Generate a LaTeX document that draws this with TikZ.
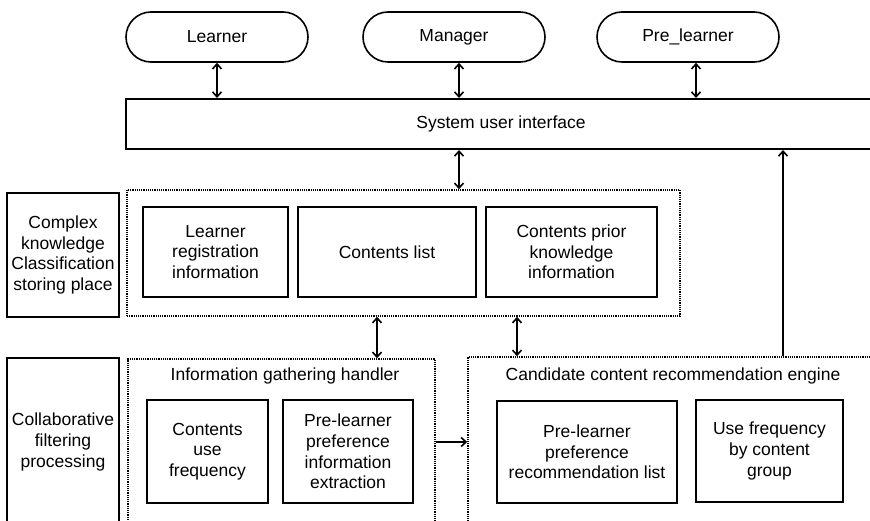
\documentclass[tikz,border=0pt]{standalone}
\usepackage{fontspec}
\setmainfont{Liberation Sans}
\usetikzlibrary{arrows.meta}
\tikzset{actor/.style={draw, line width=1.6pt, rounded corners=25pt, minimum width=182pt, minimum height=50pt, inner sep=0pt},
%solid boxes, size given at each node
block/.style={draw, line width=2pt, align=center, inner sep=0pt},
group/.style={draw, line width=1.5pt, dash pattern=on 1.2pt off 1pt},
link/.style={line width=1.6pt, >={Straight Barb[length=5pt,width=9pt]}}}

\begin{document}
\begin{tikzpicture}[x=1pt,y=-1pt,font=\fontsize{17.5}{20.7}\selectfont]
\useasboundingbox (0,0) rectangle (870,521);

% users
\node[actor] (learner) at (217,37) {Learner};
\node[actor] (manager) at (454,37) {Manager};
\node[actor] (prelearner) at (688,37) {Pre\_learner};

\node[block, minimum width=750pt, minimum height=50pt] (sui) at (501,124) {System user interface};

\draw[link,<->] (learner.south) -- (learner.south |- sui.north);
\draw[link,<->] ([xshift=5pt]manager.south) -- ([xshift=5pt]manager.south |- sui.north);
\draw[link,<->] ([xshift=8pt]prelearner.south) -- ([xshift=8pt]prelearner.south |- sui.north);

% storing place
\node[block, minimum width=112pt, minimum height=124pt] (complex) at (63,255) {Complex\\knowledge\\Classification\\storing place};
\node[group, minimum width=553pt, minimum height=126pt] (store) at (403.5,253) {};
\node[block, minimum width=145pt, minimum height=90pt] (learnerreg) at (215.5,252) {Learner\\registration\\information};
\node[block, minimum width=178pt, minimum height=90pt] (contlist) at (387,252) {Contents list};
\node[block, minimum width=171pt, minimum height=90pt] (contprior) at (571.5,252) {Contents prior\\knowledge\\information};

% filtering
\node[block, minimum width=112pt, minimum height=182pt] (collab) at (63,449) {};
\node[align=center] (collabtext) at (63,442) {Collaborative\\filtering\\processing};
\node[group, minimum width=307pt, minimum height=181pt] (handler) at (281.5,449.5) {};
\node (handlertitle) at (285,376) {Information gathering handler};
\node[block, minimum width=121pt, minimum height=103pt] (usefreq) at (207.5,451.5) {Contents\\use\\frequency};
\node[block, minimum width=130pt, minimum height=103pt] (prefextract) at (348,451.5) {Pre-learner\\preference\\information\\extraction};

\node[group, minimum width=422pt, minimum height=183pt] (engine) at (679,448.5) {};
\node (enginetitle) at (673,376) {Candidate content recommendation engine};
\node[block, minimum width=180pt, minimum height=102pt] (preflist) at (587,452) {Pre-learner\\preference\\recommendation list};
\node[block, minimum width=147pt, minimum height=102pt] (groupfreq) at (769.5,451) {Use frequency\\by content\\group};

% connections
\draw[link,<->] ([xshift=-42pt]sui.south) -- ([xshift=-42pt]sui.south |- store.north);
\draw[link,<->] ([xshift=-26.5pt]store.south) -- ([xshift=-26.5pt]store.south |- handler.north);
\draw[link,<->] ([xshift=113.5pt]store.south) -- ([xshift=113.5pt]store.south |- engine.north);
\draw[link,->] ([yshift=7.5pt]handler.east) -- ([yshift=7.5pt]handler.east -| engine.west);
\draw[link,->] ([xshift=104pt]engine.north) -- ([xshift=104pt]engine.north |- sui.south);

\end{tikzpicture}
\end{document}
